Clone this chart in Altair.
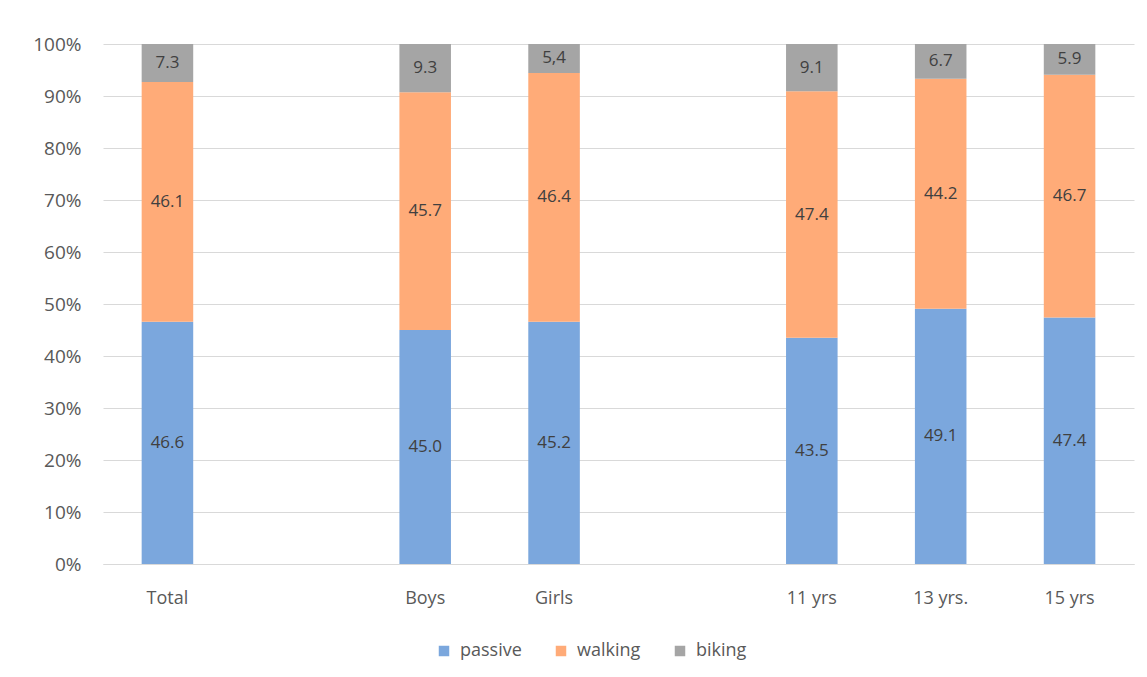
import altair as alt
import pandas as pd

categories = ["Total", " ", "Boys", "Girls", "  ", "11 yrs", "13 yrs.", "15 yrs"]
bar_categories = ["Total", "Boys", "Girls", "11 yrs", "13 yrs.", "15 yrs"]
passive = [46.6, 45.0, 45.2, 43.5, 49.1, 47.4]
walking = [46.1, 45.7, 46.4, 47.4, 44.2, 46.7]
biking = [7.3, 9.3, 5.4, 9.1, 6.7, 5.9]
passive_labels = ["46.6", "45.0", "45.2", "43.5", "49.1", "47.4"]
walking_labels = ["46.1", "45.7", "46.4", "47.4", "44.2", "46.7"]
biking_labels = ["7.3", "9.3", "5,4", "9.1", "6.7", "5.9"]
series = ["passive", "walking", "biking"]
colors = ["#7BA7DD", "#FFAB78", "#A5A5A5"]

rows = []
for i, c in enumerate(bar_categories):
    for k, (vals, labs) in enumerate([(passive, passive_labels), (walking, walking_labels), (biking, biking_labels)]):
        rows.append({"category": c, "series": series[k], "order": k, "value": vals[i], "label": labs[i]})
df = pd.DataFrame(rows)

FONT = "Open Sans"
base = alt.Chart(df).transform_stack(
    stack="value", groupby=["category"], as_=["y0", "y1"], offset="normalize",
    sort=[alt.SortField("order", order="ascending")]
).transform_calculate(mid="(datum.y0 + datum.y1) / 2")

x = alt.X("category:N", scale=alt.Scale(domain=categories, paddingInner=0.6, paddingOuter=0.3),
          axis=alt.Axis(title=None, labelAngle=0, ticks=False, domain=True, domainColor="#D9D9D9",
                        labelFontSize=18, labelColor="#595959", labelFont=FONT, labelPadding=25))

bars = base.mark_bar().encode(
    x=x,
    y=alt.Y("y0:Q", scale=alt.Scale(domain=[0, 1]),
            axis=alt.Axis(title=None, format="%", values=[i / 10 for i in range(11)],
                          ticks=False, domain=False, gridColor="#D9D9D9",
                          labelFontSize=19, labelColor="#595959", labelFont=FONT, labelPadding=22)),
    y2="y1:Q",
    color=alt.Color("series:N", scale=alt.Scale(domain=series, range=colors),
                    legend=alt.Legend(title=None, orient="none", direction="horizontal",
                                      legendX=332, legendY=598, symbolType="square", symbolSize=110,
                                      symbolStrokeWidth=0, labelFontSize=18, labelColor="#595959",
                                      labelFont=FONT, columnPadding=30, labelOffset=7)),
)

texts = base.mark_text(fontSize=17, color="#404040", font=FONT).encode(
    x=x,
    y=alt.Y("mid:Q"),
    text="label:N",
)

chart = (bars + texts).properties(
    width=1031, height=520,
    autosize=alt.AutoSizeParams(type="none"),
    padding={"left": 95, "top": 36, "right": 5, "bottom": 110},
).configure_view(stroke=None)

chart.save("out.html", embed_options={"renderer": "svg", "actions": False})
